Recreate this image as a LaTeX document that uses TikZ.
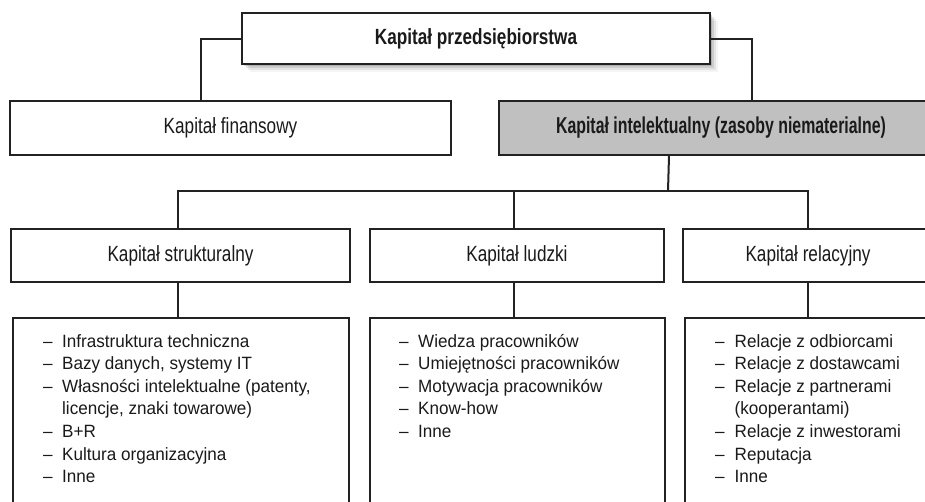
\documentclass[tikz,border=0pt]{standalone}
\usepackage{fontspec}
\setmainfont{Liberation Sans}
\newfontfamily\hfont[FakeStretch=0.78]{Liberation Sans}
\newfontfamily\hfontn[FakeStretch=0.69]{Liberation Sans}
\newfontfamily\lfont[FakeStretch=0.96]{Liberation Sans}
\definecolor{linec}{HTML}{222222}
\definecolor{boxgray}{HTML}{C0C0C0}
\definecolor{txt}{HTML}{1A1A1A}
\begin{document}
\begin{tikzpicture}[x=1pt,y=-1pt,
  box/.style={draw=linec, line width=2pt, fill=white, inner sep=0pt, text=txt},
  head/.style={box, font=\hfont\fontsize{22}{26}\selectfont},
  headbold/.style={box, font=\hfont\bfseries\fontsize{22}{26}\selectfont},
  listbox/.style={draw=linec, line width=2pt, fill=white, inner sep=0pt},
  listtext/.style={inner sep=0pt, text=txt, font=\lfont\fontsize{17.8}{22.6}\selectfont, anchor=north west},
  conn/.style={draw=linec, line width=2pt}]
\useasboundingbox (0,0) rectangle (925,501);
\clip (0,0) rectangle (925,501);

% shadow of the top box
\foreach \d/\o in {1/0.18,3/0.14,5/0.10,7/0.07,9/0.04}
  \fill[black,opacity=\o] (241+\d,12+\d) rectangle (709+\d,63+\d);

\node[headbold, minimum width=468pt, minimum height=51pt, anchor=north west] (top) at (241,12) {Kapitał przedsiębiorstwa};

\node[head, minimum width=441pt, minimum height=54pt, anchor=north west] (fin) at (9,100) {Kapitał finansowy};
\node[headbold, font=\hfontn\bfseries\fontsize{23}{26}\selectfont, fill=boxgray, minimum width=444pt, minimum height=54pt, anchor=north west] (int) at (498,100) {Kapitał intelektualny (zasoby niematerialne)};

\node[head, minimum width=339pt, minimum height=53pt, anchor=north west] (str) at (10,228) {Kapitał strukturalny};
\node[head, minimum width=294pt, minimum height=53pt, anchor=north west] (lud) at (369,228) {Kapitał ludzki};
\node[head, minimum width=250pt, minimum height=53pt, anchor=north west] (rel) at (682,228) {Kapitał relacyjny};

\node[listbox, minimum width=336pt, minimum height=200pt, anchor=north west] (l1) at (12,317) {};
\node[listbox, minimum width=295pt, minimum height=200pt, anchor=north west] (l2) at (369,317) {};
\node[listbox, minimum width=250pt, minimum height=200pt, anchor=north west] (l3) at (684,317) {};

\node[listtext] (t1) at (43,331) {\begin{tabular}{@{}l@{\hspace{9.5pt}}l@{}}
\textendash & Infrastruktura techniczna\\
\textendash & Bazy danych, systemy IT\\
\textendash & Własności intelektualne (patenty,\\
 & licencje, znaki towarowe)\\
\textendash & B+R\\
\textendash & Kultura organizacyjna\\
\textendash & Inne
\end{tabular}};
\node[listtext] (t2) at (399,331) {\begin{tabular}{@{}l@{\hspace{9.5pt}}l@{}}
\textendash & Wiedza pracowników\\
\textendash & Umiejętności pracowników\\
\textendash & Motywacja pracowników\\
\textendash & Know-how\\
\textendash & Inne
\end{tabular}};
\node[listtext] (t3) at (715,331) {\begin{tabular}{@{}l@{\hspace{10pt}}l@{}}
\textendash & Relacje z odbiorcami\\
\textendash & Relacje z dostawcami\\
\textendash & Relacje z partnerami\\
 & (kooperantami)\\
\textendash & Relacje z inwestorami\\
\textendash & Reputacja\\
\textendash & Inne
\end{tabular}};

% connectors
\draw[conn] (top.west) -| ([xshift=-29.5pt]fin.north);
\draw[conn] (top.east) -| ([xshift=31pt]int.north);
\coordinate (bus) at (668,191);
\coordinate (sN) at ([xshift=-2.5pt]str.north);
\coordinate (lN) at ([xshift=-3pt]lud.north);
\coordinate (rN) at (rel.north);
\draw[conn] ([xshift=-52pt]int.south) -- (bus);
\draw[conn] (sN) |- (rN |- bus) -- (rN);
\draw[conn] (lN) -- (lN |- bus);
\coordinate (sS) at ([xshift=-2.5pt]str.south);
\coordinate (lS) at ([xshift=-3pt]lud.south);
\coordinate (rS) at (rel.south);
\draw[conn] (sS) -- (sS |- l1.north);
\draw[conn] (lS) -- (lS |- l2.north);
\draw[conn] (rS) -- (rS |- l3.north);
\end{tikzpicture}
\end{document}
